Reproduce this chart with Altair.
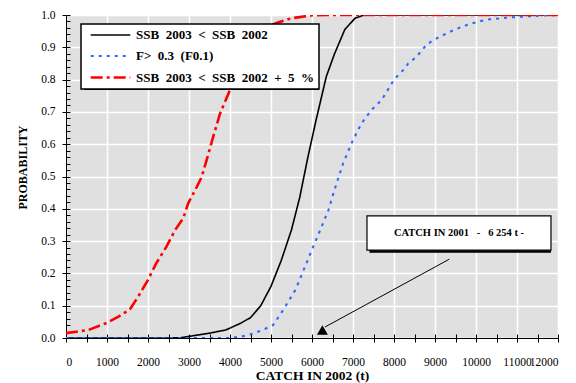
import altair as alt
import pandas as pd

# ---------------- data ----------------
S1 = "SSB 2003 < SSB 2002"
S2 = "F> 0.3 (F0.1)"
S3 = "SSB 2003 < SSB 2002 + 5 %"

ssb_catch = [0, 1000, 2000, 2500, 2800, 2950, 3500, 3900, 4250, 4500, 4750, 5000, 5250,
             5500, 5700, 5900, 6100, 6350, 6550, 6800, 7050, 7250, 7500, 8000, 9000,
             10000, 11000, 12000]
ssb_prob = [0, 0, 0, 0, 0.001, 0.004, 0.015, 0.025, 0.045, 0.063, 0.10, 0.16, 0.24,
            0.335, 0.435, 0.56, 0.675, 0.81, 0.88, 0.955, 0.99, 0.999, 1.0, 1.0, 1.0,
            1.0, 1.0, 1.0]

f_catch = [0, 1000, 2000, 3000, 4000, 4300, 4600, 4850, 5050, 5300, 5600, 5830, 6030,
           6200, 6400, 6560, 6760, 7000, 7210, 7450, 7700, 8000, 8230, 8350, 8550, 8800,
           9000, 9325, 9610, 9850, 10100, 10340, 10630, 10900, 11400, 12000]
f_prob = [0, 0, 0, 0, 0, 0.005, 0.015, 0.028, 0.04, 0.087, 0.15, 0.221, 0.283,
          0.334, 0.396, 0.463, 0.541, 0.613, 0.665, 0.706, 0.737, 0.80, 0.83, 0.85,
          0.871, 0.909, 0.925, 0.946, 0.961, 0.972, 0.981, 0.987, 0.99, 0.993, 0.997, 1.0]

r_catch = [0, 550, 1000, 1280, 1560, 1760, 2000, 2200, 2450, 2660, 2860, 2980, 3190,
           3310, 3430, 3590, 3760, 4000, 4200, 4400, 4600, 4800, 5000, 5150, 5500,
           6000, 6400, 7000, 8000, 9000, 10000, 11000, 12000]
r_prob = [0.015, 0.025, 0.047, 0.066, 0.089, 0.128, 0.18, 0.231, 0.283, 0.334, 0.371,
          0.417, 0.468, 0.499, 0.551, 0.623, 0.696, 0.768, 0.83, 0.88, 0.92, 0.95,
          0.968, 0.976, 0.99, 0.999, 1.0, 1.0, 1.0, 1.0, 1.0, 1.0, 1.0]

series_names = [S1, S2, S3]
series_colors = ["#000000", "#3366FF", "#FF0000"]
series_dash = [[1, 0], [3, 5], [12, 4, 3, 4]]
series_width = [1.6, 2.6, 2.6]

x_ticks = list(range(0, 12001, 500))
x_grid = list(range(0, 12001, 1000))
y_major = [round(i * 0.1, 1) for i in range(11)]
y_minor = [round(i * 0.02, 2) for i in range(51)]

catch_2001 = 6254
note_text = "CATCH IN 2001\u00a0\u00a0 -\u00a0\u00a0 6 254 t -"

# ---------------- table ----------------
rows = []
for name, xs_, ps_ in [(S1, ssb_catch, ssb_prob), (S2, f_catch, f_prob), (S3, r_catch, r_prob)]:
    for i, (c, p) in enumerate(zip(xs_, ps_)):
        rows.append({"catch": c, "prob": p, "series": name, "idx": i})
df = pd.DataFrame(rows)

FONT = "Liberation Serif, Times New Roman, serif"
xs = alt.Scale(domain=[0, 12000], nice=False, zero=False)
ys = alt.Scale(domain=[0, 1], nice=False, zero=False)

axis_x_main = alt.Axis(orient="bottom", values=x_ticks, tickSize=4, tickColor="black",
                       domainColor="black", grid=False, format="d",
                       labelExpr="datum.value % 1000 === 0 ? datum.label : ''",
                       labelOverlap=False, labelPadding=14, labelFontSize=11.5,
                       labelFont=FONT, labelColor="black",
                       title="CATCH IN 2002 (t)", titleFont=FONT, titleFontSize=13.5,
                       titleFontWeight="bold", titleColor="black", titlePadding=1)
axis_y_main = alt.Axis(orient="left", values=y_major, tickSize=4, tickColor="black",
                       domainColor="black", grid=True, gridColor="white", gridWidth=1.5,
                       format=".1f", labelFont=FONT, labelFontSize=11.5, labelColor="black",
                       labelPadding=7, titleY=152,
                       title="PROBABILITY", titleFont=FONT, titleFontSize=12,
                       titleFontWeight="bold", titleColor="black", titlePadding=11)
axis_x_in = alt.Axis(orient="bottom", values=x_ticks, offset=-4, tickSize=4,
                     tickColor="black", domain=False, labels=False, grid=False, title=None)
axis_y_in = alt.Axis(orient="left", values=y_minor, offset=-4, tickSize=4,
                     tickColor="black", domain=False, labels=False, grid=False, title=None)
axis_x_grid = alt.Axis(orient="bottom", values=x_grid, ticks=False, domain=False,
                       labels=False, grid=True, gridColor="white", gridWidth=1.5, title=None)


def make_legend():
    return alt.Legend(orient="none", legendX=15, legendY=9, title=None,
                      fillColor="white", strokeColor="black",
                      padding=4, rowPadding=6.5, symbolType="M-3.3,0H3.3",
                      symbolSize=144, symbolStrokeWidth=2.2, symbolOffset=18,
                      labelFont=FONT, labelFontWeight="bold", labelFontSize=13,
                      labelOffset=18, labelLimit=400, labelColor="black",
                      labelExpr="replace(datum.label, regexp(' ', 'g'), '\u00a0\u00a0')")


lines = alt.Chart(df).mark_line(clip=True).encode(
    x=alt.X("catch:Q", scale=xs, axis=axis_x_main),
    y=alt.Y("prob:Q", scale=ys, axis=axis_y_main),
    color=alt.Color("series:N",
                    scale=alt.Scale(domain=series_names, range=series_colors),
                    legend=make_legend()),
    strokeDash=alt.StrokeDash("series:N",
                              scale=alt.Scale(domain=series_names, range=series_dash),
                              legend=make_legend()),
    strokeWidth=alt.StrokeWidth("series:N",
                                scale=alt.Scale(domain=series_names, range=series_width),
                                legend=None),
    order="idx:Q",
)

note = pd.DataFrame({"x1": [7341], "x2": [11829], "y1": [0.272], "y2": [0.378],
                     "xm": [9585], "ym": [0.325], "text": [note_text]})
note_shadow = alt.Chart(note).mark_rect(color="black", xOffset=2.5, yOffset=2.5).encode(
    x=alt.X("x1:Q", scale=xs, axis=None), x2="x2:Q",
    y=alt.Y("y1:Q", scale=ys, axis=None), y2="y2:Q")
note_box = alt.Chart(note).mark_rect(fill="white", stroke="black", strokeWidth=1.2).encode(
    x=alt.X("x1:Q", scale=xs, axis=None), x2="x2:Q",
    y=alt.Y("y1:Q", scale=ys, axis=None), y2="y2:Q")
note_txt = alt.Chart(note).mark_text(font=FONT, fontWeight="bold", fontSize=10.5,
                                     color="black").encode(
    x=alt.X("xm:Q", scale=xs, axis=None), y=alt.Y("ym:Q", scale=ys, axis=None),
    text="text:N")

arrow = pd.DataFrame({"xa": [9349], "ya": [0.244], "xb": [6317], "yb": [0.034]})
arrow_line = alt.Chart(arrow).mark_rule(color="black", strokeWidth=1).encode(
    x=alt.X("xa:Q", scale=xs, axis=axis_x_in), x2="xb:Q",
    y=alt.Y("ya:Q", scale=ys, axis=axis_y_in), y2="yb:Q")

tri = pd.DataFrame({"c": [catch_2001], "p": [0.025]})
tri_pt = alt.Chart(tri).mark_point(shape="triangle-up", filled=True, color="black",
                                   size=120, opacity=1).encode(
    x=alt.X("c:Q", scale=xs, axis=axis_x_grid), y=alt.Y("p:Q", scale=ys, axis=None))

leg = pd.DataFrame({"x1": [366], "x2": [6171], "y1": [0.972], "y2": [0.768]})
leg_shadow = alt.Chart(leg).mark_rect(color="black", xOffset=3, yOffset=3).encode(
    x=alt.X("x1:Q", scale=xs, axis=None), x2="x2:Q",
    y=alt.Y("y1:Q", scale=ys, axis=None), y2="y2:Q")

chart = alt.layer(lines, arrow_line, tri_pt, note_shadow, note_box, note_txt, leg_shadow).resolve_axis(
    x="independent", y="independent"
).properties(
    width=492, height=323,
    autosize=alt.AutoSizeParams(type="none"),
    padding={"left": 66, "top": 15, "right": 18, "bottom": 45},
    background="white",
).configure_view(fill="#E0E0E0", strokeWidth=0).configure_legend(strokeWidth=1.5)

chart.save("out.html", embed_options={"renderer": "svg", "actions": False})
